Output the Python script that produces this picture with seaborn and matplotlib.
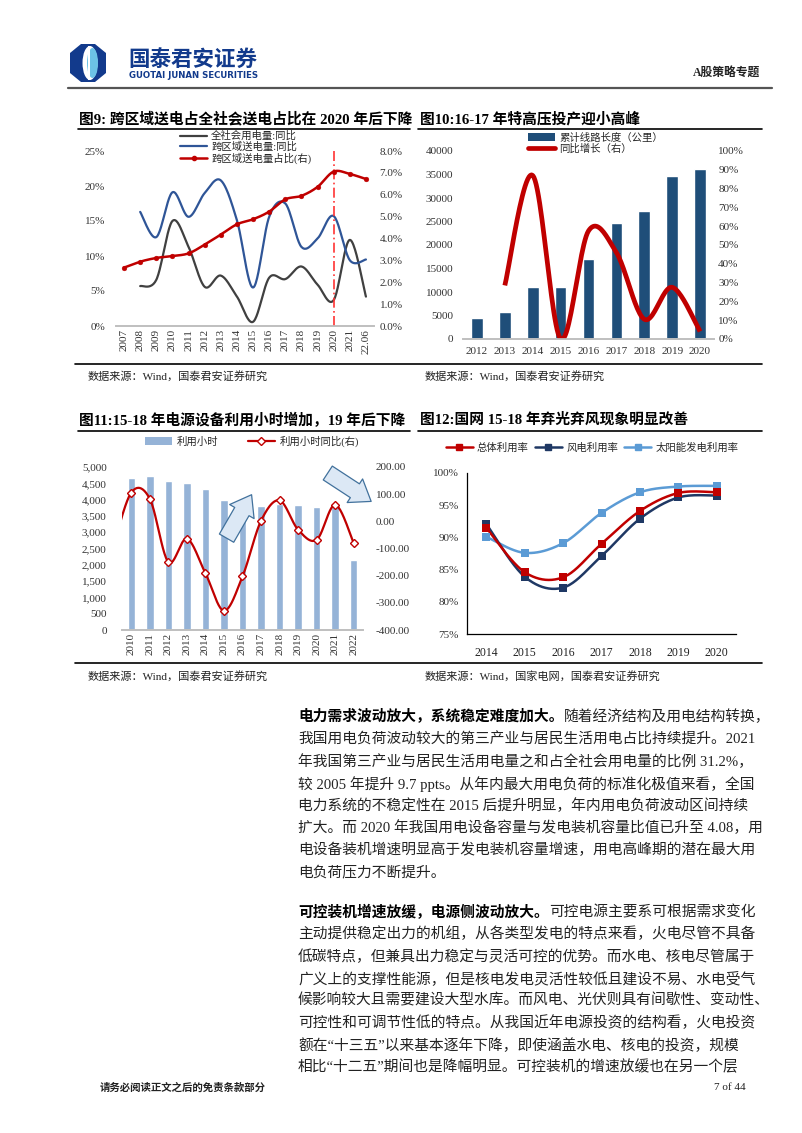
import numpy as np
import matplotlib
matplotlib.use("Agg")
import matplotlib.pyplot as plt
import seaborn as sns
from matplotlib.lines import Line2D
from matplotlib.patches import Patch, Polygon, Ellipse
from matplotlib.ticker import FuncFormatter, MultipleLocator, FixedLocator

sns.set_theme(style="white")
FAM = ['Liberation Serif', 'Noto Sans CJK SC']
plt.rcParams['font.family'] = FAM
plt.rcParams['axes.unicode_minus'] = False

W, H = 802, 1133

# ---------------- data ----------------
# Fig 9
c9_labels = ['2007', '2008', '2009', '2010', '2011', '2012', '2013', '2014', '2015',
             '2016', '2017', '2018', '2019', '2020', '2021', '22.06']
c9_total_yoy = [np.nan, 5.7, 6.6, 15.0, 11.3, 5.6, 7.2, 4.2, 0.6, 6.9, 6.7, 8.5, 5.9, 3.7, 12.3, 4.2]
c9_cross_yoy = [np.nan, 16.3, 12.7, 19.1, 15.6, 19.0, 20.8, 15.1, 5.5, 15.6, 17.5, 11.3, 12.5, 15.7, 9.4, 9.5]
c9_cross_share = [2.67, 2.94, 3.11, 3.20, 3.32, 3.72, 4.18, 4.65, 4.88, 5.23, 5.79, 5.95, 6.36, 7.06, 6.95, 6.72]
c9_marker_year = '2020'

# Fig 10
c10_years = ['2012', '2013', '2014', '2015', '2016', '2017', '2018', '2019', '2020']
c10_length = [4550, 5850, 11000, 11000, 17000, 24600, 27200, 34700, 36100]
c10_yoy = [np.nan, 0.285, 0.87, 0.0, 0.575, 0.46, 0.105, 0.275, 0.04]

# Fig 11
c11_years = ['2010', '2011', '2012', '2013', '2014', '2015', '2016', '2017', '2018',
             '2019', '2020', '2021', '2022']
c11_hours = [4650, 4730, 4580, 4516, 4325, 3996, 3787, 3790, 3866, 3835, 3767, 3828, 2150]
c11_yoy = [106, 83, -150, -64, -191, -329, -203, 2, 77, -31, -68, 61, -80]
c11_yoy_2009 = -100

# Fig 12
c12_years = ['2014', '2015', '2016', '2017', '2018', '2019', '2020']
c12_total = [91.5, 84.6, 83.8, 89.0, 94.1, 96.9, 97.0]
c12_wind = [92.1, 83.9, 82.2, 87.1, 92.9, 96.2, 96.5]
c12_solar = [90.1, 87.6, 89.1, 93.8, 97.0, 97.9, 98.0]

para1_lead = "电力需求波动放大，系统稳定难度加大。"
para1 = ["随着经济结构及用电结构转换，",
         "我国用电负荷波动较大的第三产业与居民生活用电占比持续提升。2021",
         "年我国第三产业与居民生活用电量之和占全社会用电量的比例 31.2%，",
         "较 2005 年提升 9.7 ppts。从年内最大用电负荷的标准化极值来看，全国",
         "电力系统的不稳定性在 2015 后提升明显，年内用电负荷波动区间持续",
         "扩大。而 2020 年我国用电设备容量与发电装机容量比值已升至 4.08，用",
         "电设备装机增速明显高于发电装机容量增速，用电高峰期的潜在最大用",
         "电负荷压力不断提升。"]
para2_lead = "可控装机增速放缓，电源侧波动放大。"
para2 = ["可控电源主要系可根据需求变化",
         "主动提供稳定出力的机组，从各类型发电的特点来看，火电尽管不具备",
         "低碳特点，但兼具出力稳定与灵活可控的优势。而水电、核电尽管属于",
         "广义上的支撑性能源，但是核电发电灵活性较低且建设不易、水电受气",
         "候影响较大且需要建设大型水库。而风电、光伏则具有间歇性、变动性、",
         "可控性和可调节性低的特点。从我国近年电源投资的结构看，火电投资",
         "额在“十三五”以来基本逐年下降，即使涵盖水电、核电的投资，规模",
         "相比“十二五”期间也是降幅明显。可控装机的增速放缓也在另一个层"]

RED = '#c00000'
NAVY = '#1f3864'
BLUE9 = '#2f5597'
GRAY9 = '#404040'
BAR10 = '#1f4e79'
BAR11 = '#95b3d7'
SOLAR = '#5b9bd5'
TXT = '#222222'


def smooth(x, y, n=24):
    """Catmull-Rom rendering of a line through the given points."""
    x = np.asarray(x, float)
    y = np.asarray(y, float)
    m = ~np.isnan(y)
    x, y = x[m], y[m]
    P = np.column_stack([x, y])
    P = np.vstack([P[0], P, P[-1]])
    out = []
    t = np.linspace(0, 1, n, endpoint=False)[:, None]
    for i in range(1, len(P) - 2):
        p0, p1, p2, p3 = P[i - 1], P[i], P[i + 1], P[i + 2]
        seg = 0.5 * ((2 * p1) + (-p0 + p2) * t + (2 * p0 - 5 * p1 + 4 * p2 - p3) * t ** 2
                     + (-p0 + 3 * p1 - 3 * p2 + p3) * t ** 3)
        out.append(seg)
    out.append(P[-2][None, :])
    return np.vstack(out)


def rect(l, t, r, b):
    return [l / W, 1 - b / H, (r - l) / W, (b - t) / H]


def fx(x):
    return x / W


def fy(y):
    return 1 - y / H


fig = plt.figure(figsize=(W / 100, H / 100), dpi=100)
fig.patch.set_facecolor('white')


def hline(x0, x1, y, lw=1.0, color='black'):
    fig.add_artist(Line2D([fx(x0), fx(x1)], [fy(y), fy(y)], lw=lw, color=color,
                          transform=fig.transFigure))


# ---------------- header ----------------
lax = fig.add_axes(rect(68, 43, 108, 83))
lax.set_xlim(0, 40)
lax.set_ylim(0, 40)
lax.axis('off')
oct_pts = [(13, 1), (27, 1), (38, 10), (38, 30), (27, 39), (13, 39), (2, 30), (2, 10)]
lax.add_patch(Polygon(oct_pts, closed=True, fc='#123a8c', ec='none'))
lax.add_patch(Ellipse((22, 20), 15, 34, fc='white', ec='none'))
lax.add_patch(Ellipse((24.5, 20), 11, 30, fc='#6cc3e6', ec='none'))
lax.add_patch(Polygon([(20, 3), (22, 3), (22, 37), (20, 37)], closed=True, fc='white', ec='none'))

fig.text(fx(128), fy(59), "国泰君安证券", fontsize=15.5, fontweight='bold', color='#123a8c',
         va='center', ha='left', family=['Noto Sans CJK SC'])
fig.text(fx(129), fy(76), "GUOTAI JUNAN SECURITIES", fontsize=6.2, fontweight='bold',
         color='#123a8c', va='center', ha='left', family=['DejaVu Sans'])
fig.text(fx(760), fy(73), "A股策略专题", fontsize=8.5, fontweight='bold', color=TXT,
         va='center', ha='right')
hline(68, 772, 88, lw=1.6, color='#555555')

# ---------------- titles and rules ----------------
TFS = 10.6
fig.text(fx(79), fy(119), "图9: 跨区域送电占全社会送电占比在 2020 年后下降", fontsize=TFS,
         fontweight='bold', color='black', va='center', ha='left')
fig.text(fx(420), fy(119), "图10:16-17 年特高压投产迎小高峰", fontsize=TFS,
         fontweight='bold', color='black', va='center', ha='left')
fig.text(fx(79), fy(420), "图11:15-18 年电源设备利用小时增加，19 年后下降", fontsize=TFS,
         fontweight='bold', color='black', va='center', ha='left')
fig.text(fx(420), fy(420), "图12:国网 15-18 年弃光弃风现象明显改善", fontsize=TFS,
         fontweight='bold', color='black', va='center', ha='left')
hline(78, 410, 129, lw=1.2)
hline(418, 762, 129, lw=1.2)
hline(78, 410, 431, lw=1.2)
hline(418, 762, 431, lw=1.2)
hline(75, 762, 364, lw=1.2)
hline(75, 762, 663, lw=1.2)

for x, y, s in [(88, 376, "数据来源：Wind，国泰君安证券研究"),
                (425, 376, "数据来源：Wind，国泰君安证券研究"),
                (88, 676, "数据来源：Wind，国泰君安证券研究"),
                (425, 676, "数据来源：Wind，国家电网，国泰君安证券研究")]:
    fig.text(fx(x), fy(y), s, fontsize=8, color=TXT, va='center', ha='left')

TICK = dict(labelsize=8, labelcolor='#333333', length=0, pad=2)

# ---------------- Fig 9 ----------------
ax1 = fig.add_axes(rect(116, 151, 374, 326))
ax1r = ax1.twinx()
x9 = np.arange(len(c9_labels))
g = smooth(x9, c9_total_yoy)
ax1.plot(g[:, 0], g[:, 1] / 100, color=GRAY9, lw=1.6)
b = smooth(x9, c9_cross_yoy)
ax1.plot(b[:, 0], b[:, 1] / 100, color=BLUE9, lw=1.6)
r = smooth(x9, c9_cross_share)
ax1r.plot(r[:, 0], r[:, 1] / 100, color=RED, lw=1.8, zorder=3)
sns.scatterplot(x=x9, y=np.array(c9_cross_share) / 100, ax=ax1r, color=RED, s=12,
                edgecolor=RED, zorder=4, legend=False)
ax1r.axvline(c9_labels.index(c9_marker_year), color='#ff3333', lw=1.2, ls=(0, (6, 2, 1, 2)))
ax1.set_xlim(-0.5, len(c9_labels) - 0.5)
ax1.set_ylim(0, 0.25)
ax1r.set_ylim(0, 0.08)
ax1.yaxis.set_major_locator(MultipleLocator(0.05))
ax1.yaxis.set_major_formatter(FuncFormatter(lambda v, p: f"{v * 100:.0f}%"))
ax1r.yaxis.set_major_locator(MultipleLocator(0.01))
ax1r.yaxis.set_major_formatter(FuncFormatter(lambda v, p: f"{v * 100:.1f}%"))
ax1.set_xticks(x9)
ax1.set_xticklabels(c9_labels, rotation=90)
ax1.tick_params(axis='both', **TICK)
ax1r.tick_params(axis='y', **TICK)
ax1.tick_params(axis='y', pad=8)
ax1r.tick_params(axis='y', pad=4)
for a in (ax1, ax1r):
    for s in ['left', 'right', 'top']:
        a.spines[s].set_visible(False)
    a.spines['bottom'].set_color('#bfbfbf')
    a.set_xlabel('')
    a.set_ylabel('')
    a.patch.set_alpha(0)
    a.grid(False)
h9 = [Line2D([], [], color=GRAY9, lw=1.6), Line2D([], [], color=BLUE9, lw=1.6),
      Line2D([], [], color=RED, lw=1.8, marker='o', ms=3)]
fig.legend(h9, ["全社会用电量:同比", "跨区域送电量:同比", "跨区域送电量占比(右)"],
           loc='upper left', bbox_to_anchor=(fx(180), fy(131)), frameon=False,
           fontsize=7.5, handlelength=2.6, handletextpad=0.4, labelspacing=0.05,
           borderpad=0, borderaxespad=0)

# ---------------- Fig 10 ----------------
ax2 = fig.add_axes(rect(463, 151, 714, 339))
ax2r = ax2.twinx()
x10 = np.arange(len(c10_years))
sns.barplot(x=x10, y=c10_length, ax=ax2, color=BAR10, width=0.42, saturation=1,
            native_scale=True)
yy = smooth(x10, c10_yoy)
ax2r.plot(yy[:, 0], yy[:, 1], color=RED, lw=3.4, solid_capstyle='butt')
ax2.set_xlim(-0.5, len(c10_years) - 0.5)
ax2.set_ylim(0, 40000)
ax2r.set_ylim(0, 1.0)
ax2.yaxis.set_major_locator(MultipleLocator(5000))
ax2r.yaxis.set_major_locator(MultipleLocator(0.1))
ax2r.yaxis.set_major_formatter(FuncFormatter(lambda v, p: f"{v * 100:.0f}%"))
ax2.set_xticks(x10)
ax2.set_xticklabels(c10_years)
ax2.tick_params(axis='both', **TICK)
ax2r.tick_params(axis='y', **TICK)
ax2.tick_params(axis='y', pad=7)
ax2r.tick_params(axis='y', pad=3)
ax2.tick_params(axis='x', pad=6)
for a in (ax2, ax2r):
    for s in ['left', 'right', 'top']:
        a.spines[s].set_visible(False)
    a.spines['bottom'].set_color('#bfbfbf')
    a.set_xlabel('')
    a.set_ylabel('')
    a.patch.set_alpha(0)
    a.grid(False)
h10 = [Patch(fc=BAR10, ec='none'), Line2D([], [], color=RED, lw=3.4)]
fig.legend(h10, ["累计线路长度（公里）", "同比增长（右）"], loc='upper left',
           bbox_to_anchor=(fx(528), fy(133)), frameon=False, fontsize=7.5,
           handlelength=2.6, handleheight=0.8, handletextpad=0.4, labelspacing=0.05,
           borderpad=0, borderaxespad=0)

# ---------------- Fig 11 ----------------
ax3 = fig.add_axes(rect(122, 467, 363, 630))
ax3r = ax3.twinx()
x11 = np.arange(len(c11_years))
sns.barplot(x=x11, y=c11_hours, ax=ax3, color=BAR11, width=0.4, saturation=1,
            native_scale=True)
x11e = np.concatenate([[-1], x11])
y11e = np.concatenate([[c11_yoy_2009], c11_yoy])
cv = smooth(x11e, y11e)
ax3r.plot(cv[:, 0], cv[:, 1], color=RED, lw=1.6, zorder=3)
ax3r.plot(x11, c11_yoy, ls='none', marker='D', ms=4, mfc='white', mec=RED, mew=1.0, zorder=4)
ax3.set_xlim(-0.5, len(c11_years) - 0.5)
ax3r.set_xlim(-0.5, len(c11_years) - 0.5)
ax3.set_ylim(0, 5000)
ax3r.set_ylim(-400, 200)
ax3.yaxis.set_major_locator(MultipleLocator(500))
ax3.yaxis.set_major_formatter(FuncFormatter(lambda v, p: f"{v:,.0f}"))
ax3r.yaxis.set_major_locator(MultipleLocator(100))
ax3r.yaxis.set_major_formatter(FuncFormatter(lambda v, p: f"{v:.2f}"))
ax3.set_xticks(x11)
ax3.set_xticklabels(c11_years, rotation=90)
ax3.tick_params(axis='both', **TICK)
ax3r.tick_params(axis='y', **TICK)
ax3.tick_params(axis='y', pad=11)
ax3r.tick_params(axis='y', pad=9)
for a in (ax3, ax3r):
    for s in ['left', 'right', 'top']:
        a.spines[s].set_visible(False)
    a.spines['bottom'].set_color('#bfbfbf')
    a.set_xlabel('')
    a.set_ylabel('')
    a.patch.set_alpha(0)
    a.grid(False)
arrow_style = 'simple,head_length=1.0,head_width=1.45,tail_width=0.85'
for tail, head in [((5.14, 2818), (6.49, 4150)), ((10.6, 4816), (12.94, 3945))]:
    ax3.annotate('', xy=head, xytext=tail, annotation_clip=False,
                 arrowprops=dict(arrowstyle=arrow_style, fc='#dce8f5', ec='#41719c',
                                 lw=0.9, shrinkA=0, shrinkB=0, mutation_scale=14), zorder=6)
h11 = [Patch(fc=BAR11, ec='none'),
       Line2D([], [], color=RED, lw=1.6, marker='D', ms=4, mfc='white', mec=RED)]
fig.legend(h11, ["利用小时", "利用小时同比(右)"], loc='center',
           bbox_to_anchor=(fx(252), fy(441)), ncol=2, frameon=False, fontsize=7.5,
           handlelength=2.6, handleheight=0.8, handletextpad=0.5, columnspacing=2.8,
           borderpad=0, borderaxespad=0)

# ---------------- Fig 12 ----------------
ax4 = fig.add_axes(rect(467, 473, 736, 634))
x12 = np.arange(len(c12_years))
for vals, col in [(c12_solar, SOLAR), (c12_wind, NAVY), (c12_total, RED)]:
    cc = smooth(x12, vals)
    ax4.plot(cc[:, 0], np.array(cc[:, 1]) / 100, color=col, lw=1.8, zorder=3)
    sns.scatterplot(x=x12, y=np.array(vals) / 100, ax=ax4, color=col, marker='s', s=36,
                    edgecolor=col, linewidth=0, zorder=4, legend=False)
ax4.set_xlim(-0.5, len(c12_years) - 0.5)
ax4.set_ylim(0.75, 1.0)
ax4.yaxis.set_major_locator(MultipleLocator(0.05))
ax4.yaxis.set_major_formatter(FuncFormatter(lambda v, p: f"{v * 100:.0f}%"))
ax4.xaxis.set_major_locator(FixedLocator(x12))
ax4.set_xticklabels(c12_years)
ax4.xaxis.set_minor_locator(FixedLocator(np.arange(-0.5, len(c12_years), 1.0)))
ax4.tick_params(axis='x', which='major', length=0, pad=9, labelsize=8.5, labelcolor='#222222')
ax4.tick_params(axis='x', which='minor', length=4, width=0.8, color='black', direction='out')
ax4.tick_params(axis='y', which='major', length=4, width=0.8, color='black', direction='out',
                labelsize=8, labelcolor='#333333', pad=2)
for s in ['right', 'top']:
    ax4.spines[s].set_visible(False)
for s in ['left', 'bottom']:
    ax4.spines[s].set_color('black')
    ax4.spines[s].set_linewidth(0.9)
ax4.set_xlabel('')
ax4.set_ylabel('')
ax4.grid(False)
h12 = [Line2D([], [], color=RED, lw=1.8, marker='s', ms=4.5),
       Line2D([], [], color=NAVY, lw=1.8, marker='s', ms=4.5),
       Line2D([], [], color=SOLAR, lw=1.8, marker='s', ms=4.5)]
fig.legend(h12, ["总体利用率", "风电利用率", "太阳能发电利用率"], loc='center',
           bbox_to_anchor=(fx(592), fy(448)), ncol=3, frameon=False, fontsize=7.5,
           handlelength=2.6, handletextpad=0.4, columnspacing=0.6,
           borderpad=0, borderaxespad=0)

# ---------------- body text ----------------
BODY = 10.6
renderer = fig.canvas.get_renderer()


def paragraph(lead, lines, y0, step=22.2):
    t = fig.text(fx(298), fy(y0), lead, fontsize=BODY, fontweight='bold', color='black',
                 va='center', ha='left')
    bb = t.get_window_extent(renderer=renderer)
    fig.text(bb.x1 / W, fy(y0), lines[0], fontsize=BODY, color=TXT, va='center', ha='left')
    for i, s in enumerate(lines[1:], start=1):
        fig.text(fx(298), fy(y0 + i * step), s, fontsize=BODY, color=TXT,
                 va='center', ha='left')


paragraph(para1_lead, para1, 717)
paragraph(para2_lead, para2, 912)

# ---------------- footer ----------------
fig.text(fx(100), fy(1088), "请务必阅读正文之后的免责条款部分", fontsize=7.5, fontweight='bold',
         color=TXT, va='center', ha='left')
fig.text(fx(746), fy(1088), "7 of 44", fontsize=8, color=TXT, va='center', ha='right')

fig.savefig("out.png", dpi=100, facecolor='white')
